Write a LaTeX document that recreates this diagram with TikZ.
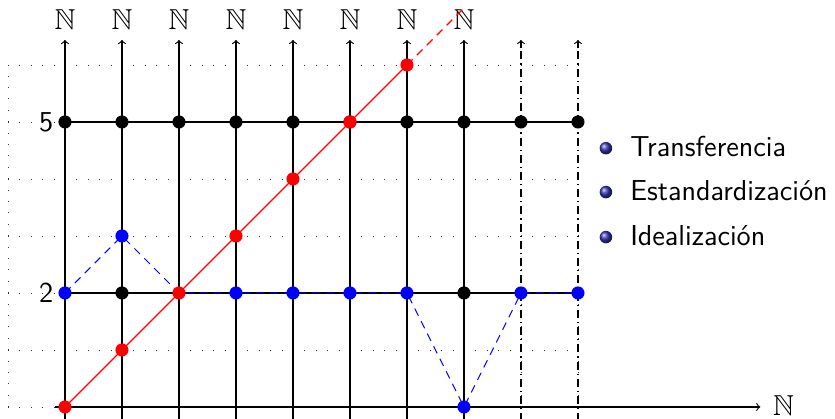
\documentclass[tikz,border=0pt]{standalone}
\usepackage{amssymb}
\usepackage{fontspec}
\definecolor{struct}{rgb}{0.2,0.2,0.7}
\begin{document}
\begin{tikzpicture}[
  axisline/.style={line width=0.55pt,black},
  gridline/.style={line width=0.4pt,black!80,dash pattern=on 0.4pt off 5.29pt},
  ddline/.style={line width=0.55pt,black,dash pattern=on 4pt off 2pt on 0.6pt off 2pt},
  dotnode/.style={circle,fill=#1,inner sep=0pt,minimum size=0.23cm},
  nlabel/.style={font=\fontsize{14.4}{16}\selectfont},
  numlabel/.style={font=\fontsize{14.4}{16}\selectfont\sffamily,anchor=east},
  legend/.style={font=\fontsize{14.4}{16}\selectfont\sffamily,anchor=base west,inner sep=0pt},
  bluepath/.style={blue,line width=0.5pt,dash pattern=on 4pt off 3pt},
  redpath/.style={red,line width=0.6pt}
]
\useasboundingbox (-1.140,-0.211) rectangle (13.509,7.140);
% coordinates
\foreach \i in {0,...,9}{\foreach \j in {0,...,7}{\coordinate (g-\i-\j) at (\i,\j);}}
% dotted grid
\draw[gridline] (-1,0) grid (9,6);
% vertical axes
\foreach \i in {0,...,7}{
  \coordinate (vb-\i) at (\i,-0.25);
  \coordinate (vt-\i) at (\i,6.44);
  \draw[axisline,->] (vb-\i) -- (vt-\i);
  \node[nlabel] (n-\i) at (\i,6.79) {$\mathbb{N}$};
}
\foreach \i in {8,9}{
  \coordinate (vb-\i) at (\i,-0.25);
  \coordinate (vt-\i) at (\i,6.44);
  \draw[ddline,->,solid] (vt-\i) ++(0,-0.15) -- (vt-\i);
  \draw[ddline] (vb-\i) -- ([yshift=-0.15cm]vt-\i);
}
% horizontal axis
\coordinate (hb) at (-0.18,0);
\coordinate (he) at (12.2,0);
\draw[axisline,->] (hb) -- (he);
\node[nlabel,anchor=west] (nx) at (12.3,0.02) {$\mathbb{N}$};
% horizontal black lines
\draw[axisline] (g-0-5) -- (g-9-5);
\draw[axisline] (g-0-2) -- (g-9-2);
% blue dashed path
\draw[bluepath] (g-0-2) -- (g-1-3) -- (g-2-2) -- (g-6-2) -- (g-7-0) -- (g-8-2) -- (g-9-2);
% red line
\draw[redpath] (g-0-0) -- (g-6-6);
\draw[redpath,dash pattern=on 4pt off 3pt] (g-6-6) -- (g-7-7);
% black dots
\foreach \i in {0,...,9}{\node[dotnode=black] (b5-\i) at (g-\i-5) {};}
\foreach \i in {1,7}{\node[dotnode=black] (b2-\i) at (g-\i-2) {};}
% blue dots
\foreach \p in {0-2,1-3,3-2,4-2,5-2,6-2,7-0,8-2,9-2}{\node[dotnode=blue] (bl-\p) at (g-\p) {};}
% red dots
\foreach \i in {0,...,6}{\node[dotnode=red] (r-\i) at (g-\i-\i) {};}
% labels
\node[numlabel] (l5) at (-0.08,5) {5};
\node[numlabel] (l2) at (-0.08,2) {2};
% legend
\foreach \y/\t [count=\k] in {4.54/Transferencia,3.77/Estandardización,2.98/Idealización}{
  \shade[ball color=struct] (9.49,\y) circle (0.11);
  \node[legend] (leg-\k) at (9.91,\y-0.15) {\t};
}
\end{tikzpicture}
\end{document}
